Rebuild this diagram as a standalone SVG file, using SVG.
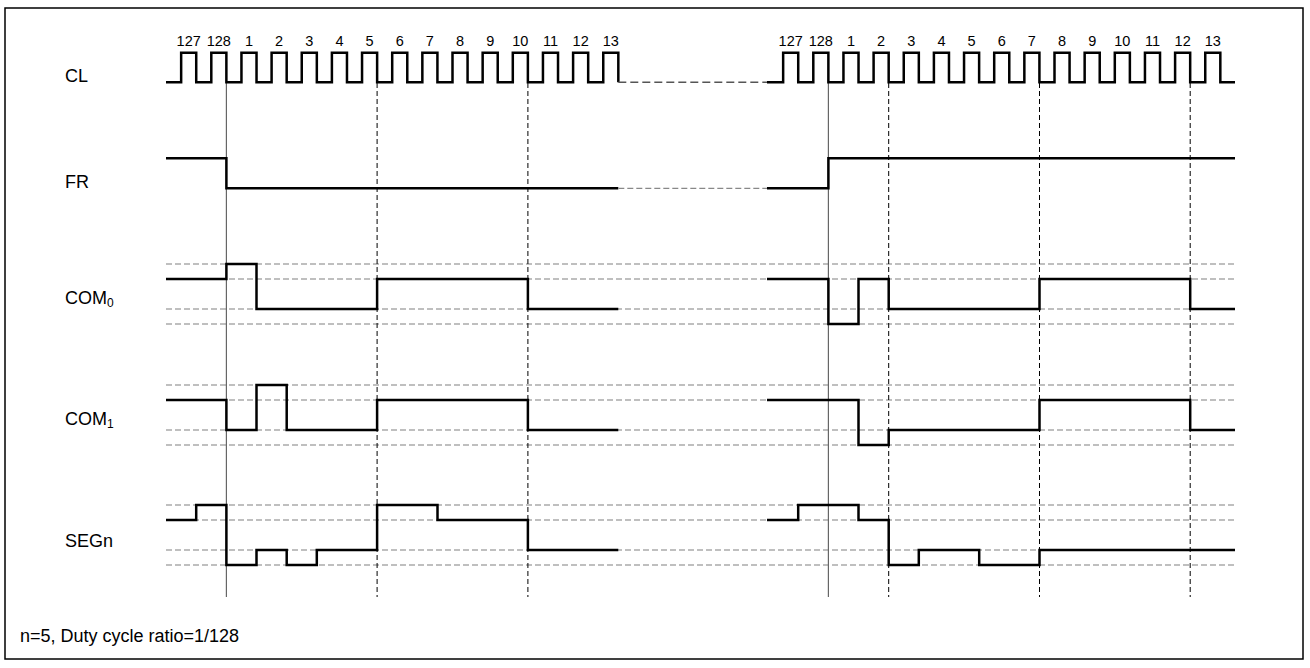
<svg xmlns="http://www.w3.org/2000/svg" width="1310" height="668" viewBox="0 0 1310 668">
<style>
.lbl{font-family:"Liberation Sans",Arial,sans-serif;font-size:18px;fill:#000}
.num{font-family:"Liberation Sans",Arial,sans-serif;font-size:14.5px;fill:#000;text-anchor:middle}
.sig{fill:none;stroke:#000;stroke-width:2.5;stroke-linejoin:miter}
.hd{fill:none;stroke:#808080;stroke-width:1.2;stroke-dasharray:6,3}
.vs{fill:none;stroke:#666;stroke-width:1.2}
.vd{fill:none;stroke:#000;stroke-width:1;stroke-dasharray:5,3}
.gap{fill:none;stroke:#555;stroke-width:1.5;stroke-dasharray:8,4}
.gapg{fill:none;stroke:#888;stroke-width:1.2;stroke-dasharray:6,3}
</style>
<rect x="5" y="8" width="1298" height="651" fill="#fff" stroke="#000" stroke-width="1.5"/>
<g id="connectors">
<g id="levels">
<path class="hd" d="M166,264H1235M166,279H1235M166,309H1235M166,324H1235"/>
<path class="hd" d="M166,385H1235M166,400H1235M166,430H1235M166,445H1235"/>
<path class="hd" d="M166,505H1235M166,520H1235M166,550H1235M166,565H1235"/>
</g>
<g id="guides">
<path class="vs" d="M226.4,83V597M828.4,83V597"/>
<path class="vd" d="M377.1,83V597M527.9,83V597M888.7,83V597M1039.5,83V597M1190.2,83V597"/>
</g>
</g>
<g id="CL">
<text class="lbl" x="65" y="82">CL</text>
<path class="sig" d="M166,82.3H181.15v-29.6h15.075v29.6h15.075v-29.6h15.075v29.6h15.075v-29.6h15.075v29.6h15.075v-29.6h15.075v29.6h15.075v-29.6h15.075v29.6h15.075v-29.6h15.075v29.6h15.075v-29.6h15.075v29.6h15.075v-29.6h15.075v29.6h15.075v-29.6h15.075v29.6h15.075v-29.6h15.075v29.6h15.075v-29.6h15.075v29.6h15.075v-29.6h15.075v29.6h15.075v-29.6h15.075v29.6h15.075v-29.6h15.075v29.6h15.075v-29.6h15.075v29.6"/>
<path class="gap" d="M618.3,82.3H767"/>
<path class="sig" d="M767,82.3H783.15v-29.6h15.075v29.6h15.075v-29.6h15.075v29.6h15.075v-29.6h15.075v29.6h15.075v-29.6h15.075v29.6h15.075v-29.6h15.075v29.6h15.075v-29.6h15.075v29.6h15.075v-29.6h15.075v29.6h15.075v-29.6h15.075v29.6h15.075v-29.6h15.075v29.6h15.075v-29.6h15.075v29.6h15.075v-29.6h15.075v29.6h15.075v-29.6h15.075v29.6h15.075v-29.6h15.075v29.6h15.075v-29.6h15.075v29.6h15.075v-29.6h15.075v29.6H1235"/>
<g id="CL-numbers">
<text class="num" x="188.7" y="46">127</text>
<text class="num" x="218.85" y="46">128</text>
<text class="num" x="249" y="46">1</text>
<text class="num" x="279.15" y="46">2</text>
<text class="num" x="309.3" y="46">3</text>
<text class="num" x="339.45" y="46">4</text>
<text class="num" x="369.6" y="46">5</text>
<text class="num" x="399.75" y="46">6</text>
<text class="num" x="429.9" y="46">7</text>
<text class="num" x="460.05" y="46">8</text>
<text class="num" x="490.2" y="46">9</text>
<text class="num" x="520.35" y="46">10</text>
<text class="num" x="550.5" y="46">11</text>
<text class="num" x="580.65" y="46">12</text>
<text class="num" x="610.8" y="46">13</text>
<text class="num" x="790.7" y="46">127</text>
<text class="num" x="820.85" y="46">128</text>
<text class="num" x="851" y="46">1</text>
<text class="num" x="881.15" y="46">2</text>
<text class="num" x="911.3" y="46">3</text>
<text class="num" x="941.45" y="46">4</text>
<text class="num" x="971.6" y="46">5</text>
<text class="num" x="1001.75" y="46">6</text>
<text class="num" x="1031.9" y="46">7</text>
<text class="num" x="1062.05" y="46">8</text>
<text class="num" x="1092.2" y="46">9</text>
<text class="num" x="1122.35" y="46">10</text>
<text class="num" x="1152.5" y="46">11</text>
<text class="num" x="1182.65" y="46">12</text>
<text class="num" x="1212.8" y="46">13</text>
</g>
</g>
<g id="FR">
<text class="lbl" x="65" y="188">FR</text>
<path class="sig" d="M166,158.3H226.4V188.3H618.3"/>
<path class="gapg" d="M618.3,188.3H767"/>
<path class="sig" d="M767,188.3H828.4V158.3H1235"/>
</g>
<g id="COM0">
<text class="lbl" x="65" y="303.5">COM<tspan font-size="12" dy="3">0</tspan></text>
<path class="sig" d="M166,279H226.4V264H256.5V309H377.1V279H527.9V309H618.3"/>
<path class="sig" d="M767,279H828.4V324H858.5V279H888.7V309H1039.5V279H1190.2V309H1235"/>
</g>
<g id="COM1">
<text class="lbl" x="65" y="424.5">COM<tspan font-size="12" dy="3">1</tspan></text>
<path class="sig" d="M166,400H226.4V430H256.5V385H286.7V430H377.1V400H527.9V430H618.3"/>
<path class="sig" d="M767,400H858.5V445H888.7V430H1039.5V400H1190.2V430H1235"/>
</g>
<g id="SEGn">
<text class="lbl" x="65" y="546.5">SEGn</text>
<path class="sig" d="M166,520H196.2V505H226.4V565H256.5V550H286.7V565H316.8V550H377.1V505H437.5V520H527.9V550H618.3"/>
<path class="sig" d="M767,520H798.2V505H858.5V520H888.7V565H918.8V550H979.2V565H1039.5V550H1235"/>
</g>
<g id="note">
<text class="lbl" x="20" y="642" font-size="17">n=5, Duty cycle ratio=1/128</text>
</g>
</svg>
